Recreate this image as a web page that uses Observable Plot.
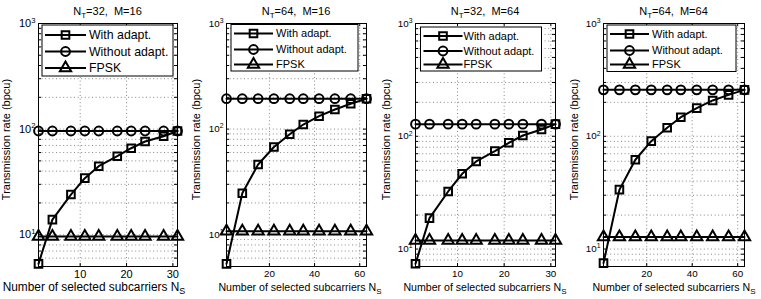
<!DOCTYPE html>
<html><head><meta charset="utf-8">
<script src="https://cdn.jsdelivr.net/npm/d3@7"></script>
<script src="https://cdn.jsdelivr.net/npm/@observablehq/plot@0.6"></script>
<style>
html,body{margin:0;padding:0;background:#fff;}
#wrap{position:relative;width:761px;height:299px;overflow:hidden;font-family:"Liberation Sans",Arial,sans-serif;}
#wrap svg{position:absolute;top:0;overflow:visible;background:transparent;}
</style></head><body><div id="wrap"></div>
<script>
// ---- data ----
const nsShort = [1, 4, 8, 11, 14, 18, 21, 24, 28, 31];
const nsLong  = [1, 8, 15, 22, 29, 35, 42, 49, 56, 63];

const withAdapt1    = [5.3, 13.9, 24, 34.3, 44.5, 55.4, 65.9, 76.3, 85.6, 96];
const withoutAdapt1 = [96, 96, 96, 96, 96, 96, 96, 96, 96, 96];
const fpsk1         = [9.6, 9.6, 9.6, 9.6, 9.6, 9.6, 9.6, 9.6, 9.6, 9.6];

const withAdapt2    = [5.3, 24.7, 46.2, 67.7, 89.5, 110.5, 132.5, 153.3, 173.6, 194];
const withoutAdapt2 = [194, 194, 194, 194, 194, 194, 194, 194, 194, 194];
const fpsk2         = [10.8, 10.8, 10.8, 10.8, 10.8, 10.8, 10.8, 10.8, 10.8, 10.8];

const withAdapt3    = [7.4, 18.8, 32.4, 46.5, 59.8, 73.8, 87.5, 101.6, 114.9, 128];
const withoutAdapt3 = [128, 128, 128, 128, 128, 128, 128, 128, 128, 128];
const fpsk3         = [11.9, 11.9, 11.9, 11.9, 11.9, 11.9, 11.9, 11.9, 11.9, 11.9];

const withAdapt4    = [7.5, 33.6, 61.9, 90.5, 118.9, 147.6, 177.5, 207.7, 233, 258];
const withoutAdapt4 = [258, 258, 258, 258, 258, 258, 258, 258, 258, 258];
const fpsk4         = [12.8, 12.8, 12.8, 12.8, 12.8, 12.8, 12.8, 12.8, 12.8, 12.8];

const ntLabels = ["32", "64", "32", "64"];
const mLabels  = ["16", "16", "64", "64"];
const xTicksShort = [10, 20, 30];
const xTicksLong  = [20, 40, 60];
const yMajorTicks = [10, 100, 1000];
const yMins = [5, 5, 7, 7];
const seriesNames = ["With adapt.", "Without adapt.", "FPSK"];
const xLabelText = "Number of selected subcarriers N";
const xLabelSub = "S";
const yLabelText = "Transmission rate (bpcu)";

// ---- layout ----
const panels = [
  {xs: nsShort, xDomain: [1, 31], xTicks: xTicksShort, wa: withAdapt1, wo: withoutAdapt1, fp: fpsk1,
   left: 38, w: 139, s: 1.12, xlabCx: 56, ylabX: -28, legend: {dx: 4, dy: 2, w: 131, h: 51, rows: [10, 26.5, 43], lx0: 3, lx1: 44, tx: 47}},
  {xs: nsLong, xDomain: [1, 63], xTicks: xTicksLong, wa: withAdapt2, wo: withoutAdapt2, fp: fpsk2,
   left: 226, w: 140, s: 1, xlabCx: 74, ylabX: -26, legend: {dx: 5, dy: 1.5, w: 127, h: 46.5, rows: [9, 25, 40], lx0: 3, lx1: 42, tx: 45}},
  {xs: nsShort, xDomain: [1, 31], xTicks: xTicksShort, wa: withAdapt3, wo: withoutAdapt3, fp: fpsk3,
   left: 415, w: 140, s: 1, xlabCx: 70, ylabX: -25.5, legend: {dx: 5.5, dy: 4, w: 121, h: 44, rows: [9, 24, 37.5], lx0: 3, lx1: 42, tx: 43}},
  {xs: nsLong, xDomain: [1, 63], xTicks: xTicksLong, wa: withAdapt4, wo: withoutAdapt4, fp: fpsk4,
   left: 603, w: 141, s: 1, xlabCx: 71, ylabX: -25, legend: {dx: 4, dy: 2, w: 129, h: 46.5, rows: [9, 25.5, 39.5], lx0: 3, lx1: 42, tx: 45}}
];

const sup = {1: "\u00B9", 2: "\u00B2", 3: "\u00B3"};
const wrap = document.getElementById("wrap");
const FONT = '"Liberation Sans", Arial, sans-serif';
const gridStyle = {stroke: "#7a7a7a", strokeDasharray: "1,2.6", strokeWidth: 0.9};
const sym = {sq: {symbol: "square", r: 4.3}, ci: {symbol: "circle", r: 4.4}, tr: {symbol: "triangle", r: 4.2}};

panels.forEach((p, i) => {
  const rows = p.xs.map((x, k) => ({x, wa: p.wa[k], wo: p.wo[k], fp: p.fp[k]}));
  const yMin = yMins[i];
  const minor = [];
  for (const d of [1, 10, 100]) for (let k = 2; k <= 9; k++) { const v = d * k; if (v > yMin && v < 1000) minor.push(v); }
  const major = yMajorTicks.filter(v => v >= yMin);
  const ML = 40, MR = 14, MT = 23, MB = 33, H = 299;
  const W = ML + p.w + MR;
  const fh = H - MT - MB;
  const tk = 3;
  const tickFs = 9.8 * p.s;
  const chart = Plot.plot({
    width: W, height: H, marginLeft: ML, marginRight: MR, marginTop: MT, marginBottom: MB,
    style: {fontFamily: FONT, fontSize: tickFs + "px", background: "transparent", overflow: "visible", color: "black"},
    x: {domain: p.xDomain},
    y: {type: "log", domain: [yMin, 1000]},
    marks: [
      Plot.frame({fill: "white"}),
      Plot.ruleX(p.xTicks, gridStyle),
      Plot.ruleY([...minor, ...major.filter(v => v < 1000)], gridStyle),
      Plot.tickY([...major, ...minor], {y: d => d, insetRight: p.w - tk, stroke: "black"}),
      Plot.tickY([...major, ...minor], {y: d => d, insetLeft: p.w - tk, stroke: "black"}),
      Plot.tickX(p.xTicks, {x: d => d, insetTop: fh - tk, stroke: "black"}),
      Plot.tickX(p.xTicks, {x: d => d, insetBottom: fh - tk, stroke: "black"}),
      Plot.line(rows, {x: "x", y: "wa", stroke: "black", strokeWidth: 2}),
      Plot.dot(rows, {x: "x", y: "wa", ...sym.sq, stroke: "black", strokeWidth: 2, fill: "none"}),
      Plot.line(rows, {x: "x", y: "wo", stroke: "black", strokeWidth: 2}),
      Plot.dot(rows, {x: "x", y: "wo", ...sym.ci, stroke: "black", strokeWidth: 2, fill: "none"}),
      Plot.line(rows, {x: "x", y: "fp", stroke: "black", strokeWidth: 2}),
      Plot.dot(rows, {x: "x", y: "fp", ...sym.tr, stroke: "black", strokeWidth: 2, fill: "none"}),
      Plot.frame({stroke: "black", strokeWidth: 1}),
      Plot.axisX({ticks: p.xTicks, tickSize: 0, tickPadding: 4, label: null}),
      Plot.axisY({ticks: major, tickSize: 0, tickPadding: 3, label: null,
                  tickFormat: d => "10" + sup[Math.round(Math.log10(d))]})
    ]
  });
  chart.style.left = (p.left - ML) + "px";
  wrap.appendChild(chart);

  const svg = d3.select(chart);
  // superscript exponents on y tick labels
  svg.selectAll('g[aria-label="y-axis tick label"] text').each(function () {
    const t = d3.select(this);
    const s = t.text();
    const e = s.slice(2);
    const expo = {"\u00B9": "1", "\u00B2": "2", "\u00B3": "3"}[e];
    if (!expo) return;
    t.text("10");
    t.append("tspan").attr("dy", "-0.55em").attr("font-size", (tickFs * 0.7) + "px").text(expo);
  });

  const fx = ML, fy = MT;
  const cx = fx + p.w / 2;
  // title
  const title = svg.append("text").attr("x", cx).attr("y", 15).attr("text-anchor", "middle")
    .attr("font-family", FONT).attr("font-size", "11px").attr("fill", "black").style("white-space", "pre");
  title.append("tspan").text("N");
  title.append("tspan").attr("dy", 3).attr("font-size", "8px").text("T");
  title.append("tspan").attr("dy", -3).text("=" + ntLabels[i] + ",  M=" + mLabels[i]);

  // x label
  const xl = svg.append("text").attr("x", fx + p.xlabCx).attr("y", 290.5).attr("text-anchor", "middle")
    .attr("font-family", FONT).attr("font-size", (10.6 * p.s) + "px").attr("fill", "black");
  xl.append("tspan").text(xLabelText);
  xl.append("tspan").attr("dy", 3.5).attr("font-size", (8 * p.s) + "px").text(xLabelSub);

  // y label
  svg.append("text").attr("transform", `translate(${fx + p.ylabX},139.5) rotate(-90)`)
    .attr("text-anchor", "middle").attr("font-family", FONT).attr("font-size", "11px").attr("fill", "black")
    .text(yLabelText);

  // legend
  const L = p.legend;
  const lg = svg.append("g").attr("transform", `translate(${fx + L.dx},${fy + L.dy})`).attr("text-anchor", "start");
  lg.append("rect").attr("width", L.w).attr("height", L.h).attr("fill", "white").attr("stroke", "black").attr("stroke-width", 1);
  const types = [[d3.symbolSquare, sym.sq.r], [d3.symbolCircle, sym.ci.r], [d3.symbolTriangle, sym.tr.r]];
  seriesNames.forEach((name, k) => {
    const yy = L.rows[k];
    lg.append("line").attr("x1", L.lx0).attr("x2", L.lx1).attr("y1", yy).attr("y2", yy)
      .attr("stroke", "black").attr("stroke-width", 2);
    lg.append("path").attr("transform", `translate(${(L.lx0 + L.lx1) / 2},${yy})`)
      .attr("d", d3.symbol(types[k][0], Math.PI * types[k][1] * types[k][1])())
      .attr("fill", "none").attr("stroke", "black").attr("stroke-width", 2);
    lg.append("text").attr("x", L.tx).attr("y", yy).attr("dy", "0.36em").attr("text-anchor", "start")
      .attr("font-family", FONT).attr("font-size", (11 * p.s) + "px").attr("fill", "black").text(name);
  });
});
</script></body></html>
